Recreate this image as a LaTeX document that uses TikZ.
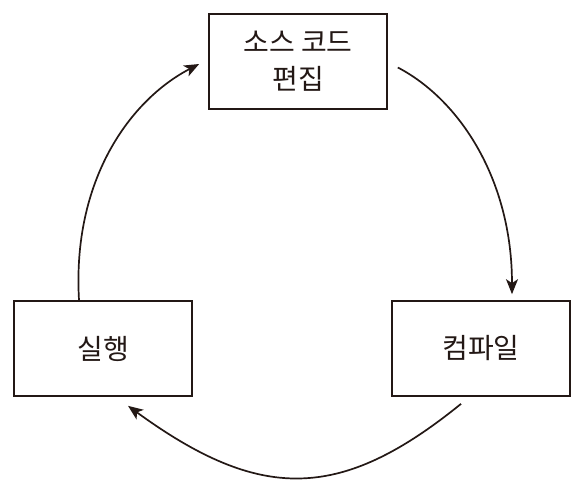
\documentclass[tikz,border=0pt]{standalone}
\usepackage{fontspec}
\usepackage{tikz}
\usetikzlibrary{arrows.meta}
\newfontfamily\krfont{Noto Sans CJK KR}
\definecolor{inkdark}{RGB}{35,24,21}

\begin{document}
\begin{tikzpicture}[x=1pt,y=-1pt,
    stepbox/.style={draw=inkdark,line width=1.7pt,minimum width=178pt,minimum height=95pt,
        align=center,font=\krfont\fontsize{28}{37}\selectfont,text=inkdark},
    flow/.style={-{Stealth[length=15pt,width=12pt,inset=4pt]},inkdark,line width=1.7pt}]
    \useasboundingbox (0,0) rectangle (584,493);

    \node[stepbox] (edit) at (298,61.5) {소스 코드\\편집};
    \node[stepbox] (run) at (103,348.5) {실행};
    \node[stepbox] (compile) at (481,348.5) {컴파일};

    \draw[flow] ([xshift=10pt,yshift=-6pt]edit.east) .. controls (460,100) and (512,180) .. ([xshift=31pt,yshift=6pt]compile.north);
    \draw[flow] ([xshift=-20pt,yshift=-7pt]compile.south) .. controls (340,502) and (260,502) .. ([xshift=25pt,yshift=-9pt]run.south);
    \draw[flow] ([xshift=-24pt]run.north) .. controls (72,180) and (130,100) .. ([xshift=-9pt,yshift=-2.5pt]edit.west);
\end{tikzpicture}
\end{document}
